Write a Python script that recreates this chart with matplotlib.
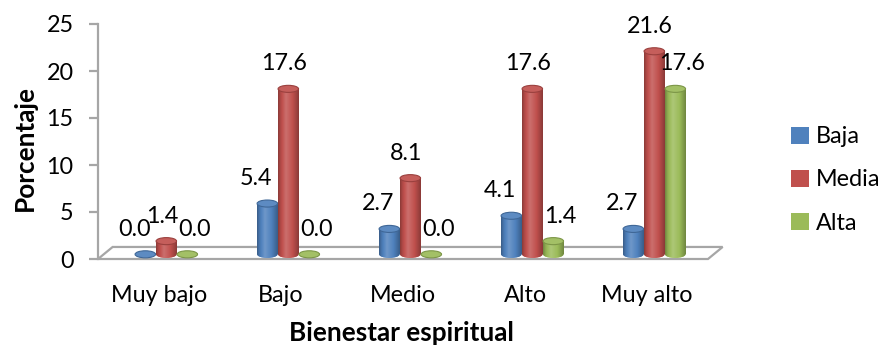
import numpy as np
import matplotlib
matplotlib.use("Agg")
import matplotlib.pyplot as plt
from matplotlib.patches import Ellipse, Polygon, Patch
from matplotlib.colors import to_rgb

plt.rcParams['font.family'] = ['Lato', 'DejaVu Sans']

categories = ["Muy bajo", "Bajo", "Medio", "Alto", "Muy alto"]
series_names = ["Baja", "Media", "Alta"]
baja = [0.0, 5.4, 2.7, 4.1, 2.7]
media = [1.4, 17.6, 8.1, 17.6, 21.6]
alta = [0.0, 0.0, 0.0, 1.4, 17.6]
y_ticks = [0, 5, 10, 15, 20, 25]

colors = ["#4F81BD", "#C0504D", "#9BBB59"]
values = [baja, media, alta]

W, H = 883, 347
fig = plt.figure(figsize=(W / 100, H / 100), dpi=100)
ax = fig.add_axes([98 / W, (H - 259) / H, 610 / W, 235 / H])
ax.set_xlim(-0.5, 4.5)
ax.set_ylim(0, 25)

FS = 16.8
FS_BOLD = 18.8
grey = "#A6A6A6"

# floor of the 3-D plot area
floor = Polygon([(-0.5, 0), (4.5, 0), (4.62, 1.28), (-0.38, 1.28)],
                closed=True, facecolor="white", edgecolor=grey, lw=1.6,
                clip_on=False, zorder=1)
ax.add_patch(floor)


def shade(c, f):
    c = np.array(to_rgb(c))
    if f >= 1:
        return c + (1 - c) * (f - 1)
    return c * f


def gradient(c, n=64):
    t = np.linspace(0, 1, n)
    knots = [0.0, 0.12, 0.38, 0.7, 1.0]
    facs = [0.72, 0.92, 1.18, 1.0, 0.72]
    f = np.interp(t, knots, facs)
    img = np.array([shade(c, v) for v in f])
    return np.clip(img, 0, 1)[None, :, :]


bar_w = 0.168
offs = [-0.172, 0.0, 0.172]
depth_dx = 0.06
base = 0.5
ell_h = 0.75
label_dx = [-8, -3, 5]   # points

for j, (vals, col) in enumerate(zip(values, colors)):
    xs = np.arange(len(categories)) + offs[j] + depth_dx
    bars = ax.bar(xs, vals, width=bar_w, bottom=base, color=col,
                  linewidth=0, zorder=3 + j)
    grad = gradient(col)
    for x, v, b in zip(xs, vals, bars):
        x0, x1 = x - bar_w / 2, x + bar_w / 2
        if v > 0:
            bot = Ellipse((x, base), bar_w, ell_h, facecolor=col,
                          linewidth=0, zorder=3 + j)
            ax.add_patch(bot)
            for clip in (b, bot):
                im = ax.imshow(grad, extent=(x0, x1, base - ell_h, base + v),
                               aspect='auto', interpolation='bilinear',
                               zorder=3 + j + 0.1)
                im.set_clip_path(clip)
        top = Ellipse((x, base + v), bar_w, ell_h,
                      facecolor=shade(col, 1.08), edgecolor=shade(col, 0.8),
                      linewidth=0.8, zorder=3 + j + 0.2)
        ax.add_patch(top)
        ax.annotate(f"{v:.1f}", (x, base + v), xytext=(label_dx[j], 18),
                    textcoords="offset points", ha="center", va="center",
                    fontsize=FS, color="black", zorder=10)

ax.set_xlim(-0.5, 4.5)
ax.set_ylim(0, 25)

for s in ("top", "right", "bottom"):
    ax.spines[s].set_visible(False)
ax.spines["left"].set_color(grey)
ax.spines["left"].set_linewidth(1.6)

ax.set_yticks(y_ticks)
ax.set_yticklabels([str(t) for t in y_ticks], fontsize=FS)
ax.tick_params(axis="y", length=6.5, width=1.6, color=grey, pad=11)
ax.set_xticks(range(len(categories)))
ax.set_xticklabels(categories, fontsize=FS)
ax.tick_params(axis="x", length=0, pad=19)

ax.set_ylabel("Porcentaje", fontsize=FS_BOLD, fontweight="bold", va="center")
ax.yaxis.set_label_coords(-0.12, 0.472)
ax.set_xlabel("Bienestar espiritual", fontsize=FS_BOLD, fontweight="bold", va="center")
ax.xaxis.set_label_coords(0.498, -0.315)

handles = [Patch(facecolor=c, edgecolor="none") for c in colors]
fig.legend(handles, series_names, loc="center left",
           bbox_to_anchor=(791 / W, 1 - 180 / H), frameon=False,
           fontsize=FS, handlelength=0.75, handleheight=0.75,
           handletextpad=0.3, labelspacing=0.95, borderaxespad=0,
           borderpad=0)

fig.savefig("out.png", dpi=100, facecolor="white")
